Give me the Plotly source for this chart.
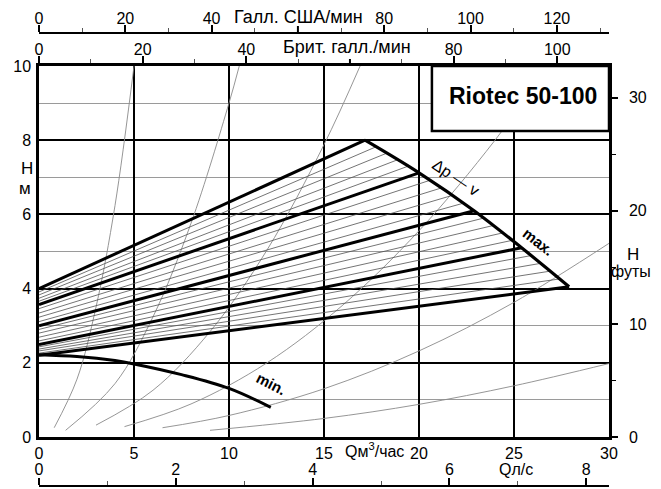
import plotly.graph_objects as go

# ---------------- data ----------------
q_ticks = [0, 5, 10, 15, 20, 25, 30]
h_ticks = [0, 2, 4, 6, 8, 10]
ft_ticks = [0, 10, 20, 30]
ft_minor = [5, 15, 25]
us_ticks = [0, 20, 40, 80, 100, 120]
us_unlabelled_tick = 60
us_minor = [10, 30, 50, 70, 90, 110, 130]
imp_ticks = [0, 20, 40, 80, 100]
imp_unlabelled_tick = 60
imp_minor = [10, 30, 50, 70, 90]
ls_ticks = [0, 2, 4, 6, 8]
ls_minor = [1, 3, 5, 7]

# thick Δp-v lines: start at Q=0 with these heads, end on the max curve
dpv_start_h = [4.0, 3.57, 3.0, 2.49, 2.2]
dpv_end_q = [17.16, 20.0, 22.9, 25.4, 27.9]
dpv_end_h = [8.0, 7.12, 6.1, 5.1, 4.05]

# thin intermediate lines
hatch_start_h = [3.91, 3.83, 3.74, 3.66,
                 3.46, 3.34, 3.23, 3.11,
                 2.90, 2.80, 2.69, 2.59,
                 2.43, 2.37, 2.32, 2.26]
hatch_end_q = [17.73, 18.30, 18.86, 19.43,
               20.58, 21.16, 21.74, 22.32,
               23.4, 23.9, 24.4, 24.9,
               25.9, 26.4, 26.9, 27.4]
hatch_end_h = [7.82, 7.65, 7.47, 7.30,
               6.92, 6.71, 6.51, 6.30,
               5.90, 5.70, 5.50, 5.30,
               4.89, 4.68, 4.47, 4.26]

# max (Δp-v envelope) curve
max_q = [17.16, 20.0, 22.9, 25.4, 27.9]
max_h = [8.0, 7.12, 6.1, 5.1, 4.05]

# min curve
min_q = [0, 2, 4, 5, 7.5, 10, 12.2]
min_h = [2.22, 2.17, 2.06, 1.97, 1.68, 1.31, 0.8]

# system curves (thin grey)
sys_a_q = [0.8, 2, 3, 4, 5.0]
sys_a_h = [0.25, 1.56, 3.5, 6.24, 10.0]
sys_b_q = [1.4, 4, 6, 8, 10, 10.54]
sys_b_h = [0.18, 1.44, 3.24, 5.76, 9.0, 10.0]
sys_c_q = [3, 6, 9, 12, 15, 16.9]
sys_c_h = [0.32, 1.26, 2.84, 5.04, 7.88, 10.0]
sys_d_q = [4.5, 8, 12, 16, 20, 24, 26.8]
sys_d_h = [0.28, 0.89, 2.0, 3.56, 5.56, 8.0, 10.0]
sys_e_q = [6.5, 10, 15, 20, 25, 30]
sys_e_h = [0.25, 0.58, 1.3, 2.32, 3.63, 5.22]
sys_f_q = [9, 15, 20, 25, 30]
sys_f_h = [0.18, 0.5, 0.88, 1.38, 1.98]

# unit conversions
US_GPM_TO_M3H = 0.227125
IMP_GPM_TO_M3H = 0.272765

# ---------------- figure ----------------
FONT = "Liberation Sans, Arial, sans-serif"
W, H = 661, 489
ML, MR = 39, 52
fig = go.Figure()

sys_curves = [(sys_a_q, sys_a_h), (sys_b_q, sys_b_h), (sys_c_q, sys_c_h),
              (sys_d_q, sys_d_h), (sys_e_q, sys_e_h), (sys_f_q, sys_f_h)]
for sq, sh in sys_curves:
    fig.add_trace(go.Scatter(x=sq, y=sh, mode="lines", line=dict(color="#8a8a8a", width=0.9, shape="spline"),
                             hoverinfo="skip", showlegend=False))

for s, eq, eh in zip(hatch_start_h, hatch_end_q, hatch_end_h):
    fig.add_trace(go.Scatter(x=[0, eq], y=[s, eh], mode="lines", line=dict(color="#505050", width=0.8),
                             hoverinfo="skip", showlegend=False))

for s, eq, eh in zip(dpv_start_h, dpv_end_q, dpv_end_h):
    fig.add_trace(go.Scatter(x=[0, eq], y=[s, eh], mode="lines", line=dict(color="black", width=3),
                             hoverinfo="skip", showlegend=False))

fig.add_trace(go.Scatter(x=max_q, y=max_h, mode="lines", line=dict(color="black", width=3.2, shape="spline"),
                         hoverinfo="skip", showlegend=False))
fig.add_trace(go.Scatter(x=min_q, y=min_h, mode="lines", line=dict(color="black", width=3, shape="spline"),
                         hoverinfo="skip", showlegend=False))

# dummy traces so that the secondary axes are drawn
for xa, ya in [("x2", "y"), ("x3", "y"), ("x4", "y"), ("x", "y2")]:
    fig.add_trace(go.Scatter(x=[None], y=[None], xaxis=xa, yaxis=ya, mode="markers",
                             hoverinfo="skip", showlegend=False))

Y0 = (H - 437) / H
Y1 = (H - 66) / H
US_LINE = (H - 33) / H
LS_LINE = 3 / H
tickfont = dict(family=FONT, size=16, color="black")

fig.update_layout(
    width=W, height=H,
    margin=dict(l=ML, r=MR, t=0, b=0, pad=0),
    paper_bgcolor="white", plot_bgcolor="white",
    template="none",
    showlegend=False,
    xaxis=dict(range=[0, 30], tickmode="array", tickvals=q_ticks, ticks="", showgrid=True,
               gridcolor="black", gridwidth=2, zeroline=False, showline=True, linecolor="black",
               linewidth=2.5, mirror=True, tickfont=tickfont, anchor="y", fixedrange=True,
               automargin=False),
    yaxis=dict(range=[0, 10], domain=[Y0, Y1], tickmode="array", tickvals=h_ticks, ticks="",
               showgrid=True, gridcolor="black", gridwidth=2, zeroline=False, showline=True,
               linecolor="black", linewidth=2.5, mirror=True, tickfont=tickfont,
               minor=dict(dtick=1, showgrid=True, gridcolor="#9a9a9a", gridwidth=1, ticks=""),
               anchor="x", fixedrange=True, automargin=False, ticklabelstandoff=2),
    yaxis2=dict(range=[0, 32.808], overlaying="y", side="right", anchor="x", tickmode="array",
                tickvals=ft_ticks, ticks="outside", ticklen=6, tickwidth=2, tickcolor="black",
                minor=dict(tickmode="array", tickvals=ft_minor, ticks="outside", ticklen=4,
                           tickwidth=1.2, tickcolor="black"),
                showgrid=False, zeroline=False, showline=True, linecolor="black", linewidth=2.5,
                tickfont=tickfont, ticklabelstandoff=8, automargin=False),
    xaxis2=dict(range=[0, 30 / US_GPM_TO_M3H], overlaying="x", anchor="free", position=US_LINE,
                side="top", tickmode="array", tickvals=us_ticks,
                ticks="outside", ticklen=7, tickwidth=2, tickcolor="black",
                minor=dict(tickmode="array", tickvals=us_minor, ticks="outside", ticklen=4,
                           tickwidth=1, tickcolor="#555"),
                showgrid=False, zeroline=False, showline=True, linecolor="black", linewidth=2,
                tickfont=tickfont, automargin=False, ticklabelstandoff=-5),
    xaxis3=dict(range=[0, 30 / IMP_GPM_TO_M3H], overlaying="x", anchor="y", side="top",
                tickmode="array", tickvals=imp_ticks, ticks="outside", ticklen=7, tickwidth=2,
                tickcolor="black",
                minor=dict(tickmode="array", tickvals=imp_minor, ticks="outside", ticklen=4,
                           tickwidth=1, tickcolor="#555"),
                showgrid=False, zeroline=False, showline=True, linecolor="black", linewidth=2.5,
                tickfont=tickfont, automargin=False, ticklabelstandoff=-5),
    xaxis4=dict(range=[0, 30 / 3.6], overlaying="x", anchor="free", position=LS_LINE,
                side="top", tickmode="array", tickvals=ls_ticks, ticks="outside", ticklen=7,
                tickwidth=2, tickcolor="black",
                minor=dict(tickmode="array", tickvals=ls_minor, ticks="outside", ticklen=4,
                           tickwidth=1, tickcolor="#555"),
                showgrid=False, zeroline=False, showline=True, linecolor="black", linewidth=2,
                tickfont=tickfont, automargin=False, ticklabelstandoff=-3),
)

# unlabelled major ticks at 60 gal/min (the axis titles sit there)
fig.add_shape(type="line", xref="x", yref="paper",
              x0=us_unlabelled_tick * US_GPM_TO_M3H, x1=us_unlabelled_tick * US_GPM_TO_M3H,
              y0=US_LINE, y1=US_LINE + 7 / H, line=dict(color="black", width=2))
fig.add_shape(type="line", xref="x", yref="paper",
              x0=imp_unlabelled_tick * IMP_GPM_TO_M3H, x1=imp_unlabelled_tick * IMP_GPM_TO_M3H,
              y0=Y1, y1=Y1 + 7 / H, line=dict(color="black", width=2))

# model box
fig.add_shape(type="rect", xref="x", yref="y", x0=20.68, x1=30, y0=8.25, y1=10,
              fillcolor="white", line=dict(color="black", width=2.5), layer="above")


def ann(text, px, py, size=16, angle=0, bold=False):
    """Place a text by its centre, given in page pixels."""
    fig.add_annotation(text=text, x=(px - ML) / (W - ML - MR), y=(H - py) / H,
                       xref="paper", yref="paper", showarrow=False,
                       textangle=angle, xanchor="center", yanchor="middle",
                       font=dict(family=FONT, size=size, color="black",
                                 weight="bold" if bold else "normal"))


ann("Riotec 50-100", 523, 96, size=23, bold=True)
ann("Галл. США/мин", 298, 17, size=18)
ann("Брит. галл./мин", 347, 47, size=18)
ann("Qм<sup>3</sup>/час", 375, 450, size=16)
ann("Qл/с", 516, 469, size=16)
ann("H", 633, 254, size=17)
ann("футы", 631, 271, size=16)
ann("H", 27, 168, size=17)
ann("м", 25, 188, size=17)
ann("Δp — v", 456, 177, size=16, angle=34)
ann("max.", 538, 242, size=15, angle=38, bold=True)
ann("min.", 271, 383, size=15, angle=27, bold=True)

fig.write_html("out.html", config={"displayModeBar": False},
               post_script="document.body.style.margin='0';")
